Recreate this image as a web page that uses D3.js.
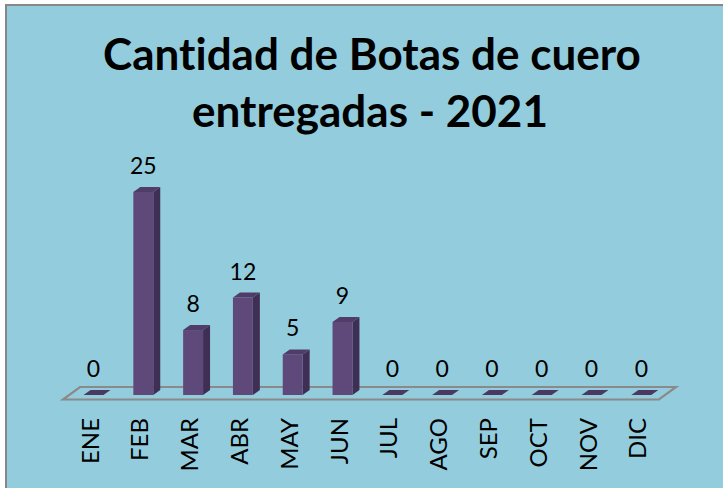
<!DOCTYPE html>
<html>
<head>
<meta charset="utf-8">
<script src="https://cdn.jsdelivr.net/npm/d3@7/dist/d3.min.js"></script>
<style>
  html, body { margin: 0; padding: 0; background: #ffffff; }
  svg { display: block; }
  text { font-family: Lato, "Open Sans", sans-serif; fill: #000; font-variant-ligatures: none; }
</style>
</head>
<body>
<svg id="chart" width="723" height="488"></svg>
<script>
// Deliveries of leather boots per month, 2021
const months = ["ENE", "FEB", "MAR", "ABR", "MAY", "JUN", "JUL", "AGO", "SEP", "OCT", "NOV", "DIC"];
const boots = [0, 25, 8, 12, 5, 9, 0, 0, 0, 0, 0, 0];
const titleLines = ["Cantidad de Botas de cuero", "entregadas - 2021"];

const W = 723, H = 488;
const svg = d3.select("#chart");

// chart area background and frame (runs past the right and bottom edges)
svg.append("rect")
  .attr("x", 6).attr("y", 5).attr("width", W + 10).attr("height", H + 10)
  .attr("fill", "#93cddd").attr("stroke", "#878787").attr("stroke-width", 2);

// title, sized so the first line spans the plot width
const title = svg.append("g");
const t1 = title.append("text").attr("x", 372).attr("y", 70)
  .attr("text-anchor", "middle").attr("font-weight", 700).attr("font-size", 36)
  .text(titleLines[0]);
const w1 = t1.node().getComputedTextLength();
const fs = 36 * 538 / w1;
t1.attr("font-size", fs);
title.append("text").attr("x", 370).attr("y", 127)
  .attr("text-anchor", "middle").attr("font-weight", 700).attr("font-size", fs)
  .text(titleLines[1]);

// scales
const x = d3.scaleBand().domain(months).range([68.6, 666.2])
  .paddingInner(0.6).paddingOuter(0.3);
const y = d3.scaleLinear().domain([0, 25]).range([395, 192]);

// 3-D depth offsets
const fd = { dx: 17, dy: -12.5 };   // floor
const bd = { dx: 7, dy: -5 };       // bar
const base = y(0);

// floor parallelogram
const fx0 = 63, fx1 = 659, fy = 399.5;
svg.append("path")
  .attr("d", `M${fx0},${fy} L${fx1},${fy} L${fx1 + fd.dx},${fy + fd.dy} L${fx0 + fd.dx},${fy + fd.dy} Z`)
  .attr("fill", "none").attr("stroke", "#8a8a8a").attr("stroke-width", 2.2)
  .attr("stroke-linejoin", "miter");

// bars
const bars = svg.append("g").selectAll("g").data(months.map((m, i) => ({ m, v: boots[i] })))
  .join("g");

bars.each(function (d) {
  const g = d3.select(this);
  const x0 = x(d.m), x1 = x0 + x.bandwidth();
  const yt = y(d.v);
  if (d.v > 0) {
    // side
    g.append("path")
      .attr("d", `M${x1},${base} L${x1 + bd.dx},${base + bd.dy} L${x1 + bd.dx},${yt + bd.dy} L${x1},${yt} Z`)
      .attr("fill", "#402f54");
    // front face
    g.append("rect").attr("x", x0).attr("y", yt)
      .attr("width", x1 - x0).attr("height", base - yt)
      .attr("fill", "#5f497a");
  }
  // top
  g.append("path")
    .attr("d", `M${x0},${yt} L${x1},${yt} L${x1 + bd.dx},${yt + bd.dy} L${x0 + bd.dx},${yt + bd.dy} Z`)
    .attr("fill", d.v > 0 ? "#4f3c68" : "#4a3a62");
});

// value labels
svg.append("g").selectAll("text").data(months.map((m, i) => ({ m, v: boots[i] })))
  .join("text")
  .attr("x", d => x(d.m) + x.bandwidth() / 2)
  .attr("y", d => y(d.v) - 18)
  .attr("text-anchor", "middle").attr("font-size", 23)
  .text(d => d.v);

// category axis labels, rotated
const axis = d3.axisBottom(x).tickSize(0).tickPadding(0);
const ax = svg.append("g").call(axis);
ax.select(".domain").remove();
ax.selectAll(".tick").attr("transform", d => `translate(${x(d) + x.bandwidth() / 2 - 3.5},418)`);
ax.selectAll("text")
  .attr("font-size", 24).attr("fill", "#000")
  .attr("text-anchor", "end")
  .attr("x", 0).attr("y", 0).attr("dy", "0.36em")
  .attr("transform", "rotate(-90)");
</script>
</body>
</html>
